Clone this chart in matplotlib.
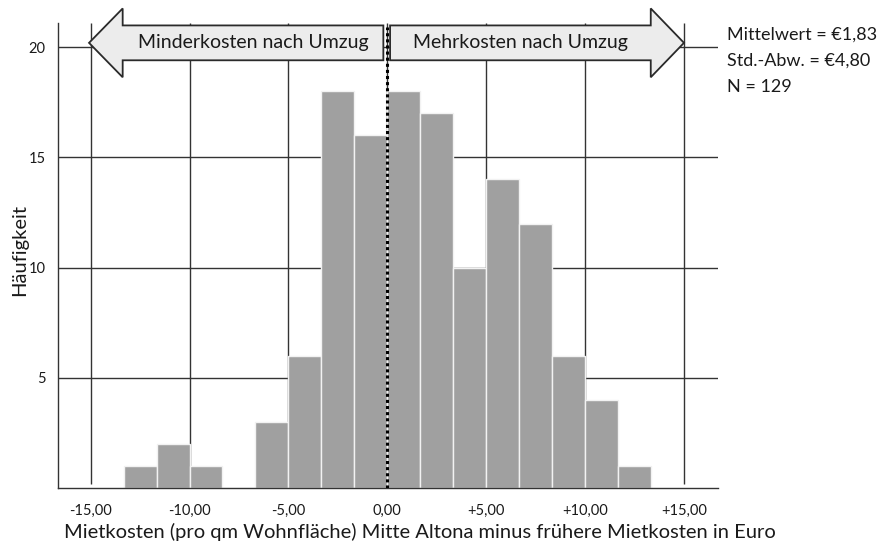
import matplotlib
matplotlib.use("Agg")
import matplotlib.pyplot as plt
from matplotlib.patches import Polygon
import numpy as np

plt.rcParams['font.family'] = ['Lato', 'DejaVu Sans']

# Data
bin_edges = [-40/3, -35/3, -10, -25/3, -20/3, -5, -10/3, -5/3, 0,
             5/3, 10/3, 5, 20/3, 25/3, 10, 35/3, 40/3]
counts = [1, 2, 1, 0, 3, 6, 18, 16, 18, 17, 10, 14, 12, 6, 4, 1]
x_ticks = [-15, -10, -5, 0, 5, 10, 15]
x_tick_labels = ["-15,00", "-10,00", "-5,00", "0,00", "+5,00", "+10,00", "+15,00"]
y_ticks = [5, 10, 15, 20]
y_tick_labels = ["5", "10", "15", "20"]
stats_lines = ["Mittelwert = €1,83", "Std.-Abw. = €4,80", "N = 129"]
left_label = "Minderkosten nach Umzug"
right_label = "Mehrkosten nach Umzug"
x_label = "Mietkosten (pro qm Wohnfläche) Mitte Altona minus frühere Mietkosten in Euro"
y_label = "Häufigkeit"

W, H = 882, 547
fig = plt.figure(figsize=(W/100, H/100), dpi=100)
ax = fig.add_axes([58/W, 1 - 488.3/H, (718-58)/W, (488.3-23)/H])

XMIN, XMAX = -16.65, 16.72
YMIN, YMAX = 0, 21.09
ax.set_xlim(XMIN, XMAX)
ax.set_ylim(YMIN, YMAX)

gridc = '#333333'
for yv in y_ticks:
    ax.axhline(yv, color=gridc, lw=1.0, zorder=1)
for xv in x_ticks:
    ax.vlines(xv, 0.2, YMAX, color=gridc, lw=1.0, zorder=1)

edges = np.array(bin_edges)
widths = np.diff(edges)
ax.bar(edges[:-1], counts, width=widths, align='edge', color='#a0a0a0',
       edgecolor='#f2f2f2', linewidth=1.0, zorder=2)

ax.vlines(0, 0, 20.9, color='black', lw=2.2, linestyles=(0, (1, 1)), zorder=4)

# Arrows
yc = 20.19
bh = 0.79
hh = 1.56
arrow_kw = dict(closed=True, facecolor='#ececec', edgecolor='#2a2a2a', lw=1.3,
                clip_on=False, zorder=5)
left_tip, left_base, left_end = -15.08, -13.38, -0.2
ax.add_patch(Polygon([(left_tip, yc), (left_base, yc + hh), (left_base, yc + bh),
                      (left_end, yc + bh), (left_end, yc - bh), (left_base, yc - bh),
                      (left_base, yc - hh)], **arrow_kw))
right_start, right_base, right_tip = 0.14, 13.32, 15.0
ax.add_patch(Polygon([(right_tip, yc), (right_base, yc + hh), (right_base, yc + bh),
                      (right_start, yc + bh), (right_start, yc - bh), (right_base, yc - bh),
                      (right_base, yc - hh)], **arrow_kw))
ax.text((left_base + left_end) / 2, yc, left_label, ha='center', va='center',
        fontsize=14, color='#1a1a1a', zorder=6, clip_on=False)
ax.text((right_base + right_start) / 2, yc, right_label, ha='center', va='center',
        fontsize=14, color='#1a1a1a', zorder=6, clip_on=False)

ax.set_xticks(x_ticks)
ax.set_xticklabels(x_tick_labels, fontsize=10.5, color='#1a1a1a')
ax.set_yticks(y_ticks)
ax.set_yticklabels(y_tick_labels, fontsize=10.5, color='#1a1a1a')
ax.tick_params(axis='x', length=0, pad=11)
ax.tick_params(axis='y', length=0, pad=9)

for s in ['top', 'right']:
    ax.spines[s].set_visible(False)
for s in ['left', 'bottom']:
    ax.spines[s].set_color('#333333')
    ax.spines[s].set_linewidth(1.0)

fig.text(20/W, 1 - 250/H, y_label, rotation=90, ha='center', va='center',
         fontsize=14.5, color='#1a1a1a')
fig.text(420/W, 1 - 532/H, x_label, ha='center', va='center',
         fontsize=14.5, color='#1a1a1a')

for i, line in enumerate(stats_lines):
    fig.text(727/W, 1 - (35 + 26*i)/H, line, ha='left', va='center',
             fontsize=13, color='#1a1a1a')

fig.savefig('out.png', dpi=100)
